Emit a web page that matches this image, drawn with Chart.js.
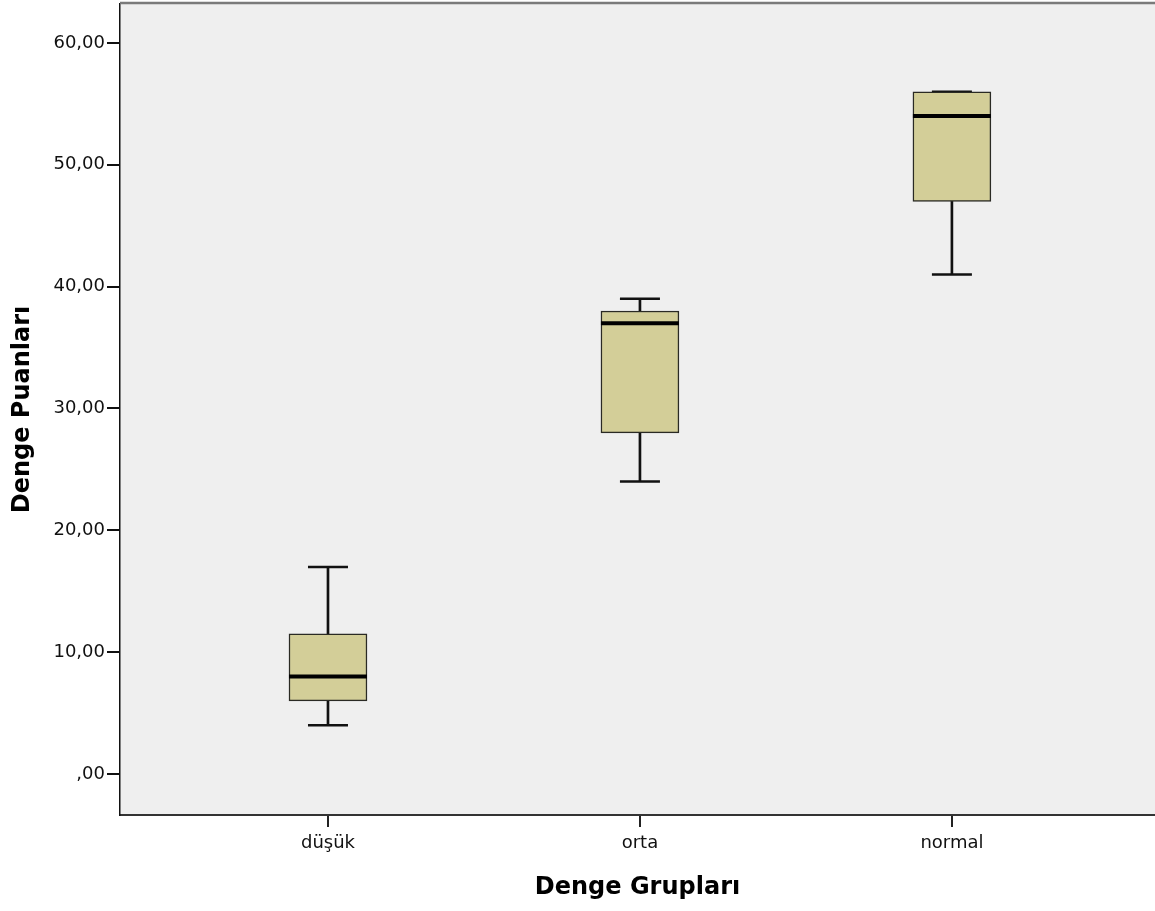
<!DOCTYPE html>
<html>
<head>
<meta charset="utf-8">
<script src="https://cdn.jsdelivr.net/npm/chart.js@4.4.1/dist/chart.umd.min.js"></script>
<style>
  body { margin: 0; background: #fff; }
</style>
</head>
<body>
<canvas id="boxChart" width="1155" height="911"></canvas>
<script>
const groups = ["düşük", "orta", "normal"];
const mins = [4, 24, 41];
const q1s = [6, 28, 47];
const medians = [8, 37, 54];
const q3s = [11.5, 38, 56];
const maxs = [17, 39, 56];

const xPos = groups.map((g, i) => i);

// plot background + top frame line
const frame = {
    id: 'frame',
    beforeDraw(chart) {
        const a = chart.chartArea, ctx = chart.ctx;
        ctx.save();
        ctx.fillStyle = '#efefef';
        ctx.fillRect(a.left, a.top, a.right - a.left, a.bottom - a.top);
        ctx.restore();
    },
    afterDraw(chart) {
        const a = chart.chartArea, ctx = chart.ctx;
        ctx.save();
        ctx.strokeStyle = '#7a7a7a';
        ctx.lineWidth = 2.5;
        ctx.beginPath();
        ctx.moveTo(a.left, a.top - 1);
        ctx.lineTo(a.right, a.top - 1);
        ctx.stroke();
        ctx.restore();
    }
};

const fmt = v => v === 0 ? ',00' : v.toFixed(2).replace('.', ',');

const config = {
    type: 'bar',
    data: {
        datasets: [
        {
            // medians
            type: 'scatter',
            data: xPos.map((x, i) => ({x: x, y: medians[i]})),
            pointStyle: 'line',
            radius: 39,
            borderWidth: 4,
            borderColor: '#000',
            order: 0
        },
        {
            // boxes
            data: xPos.map((x, i) => ({x: x, y: [q1s[i], q3s[i]]})),
            backgroundColor: '#d3ce98',
            borderColor: '#2a2a24',
            borderWidth: 1.5,
            borderSkipped: false,
            barThickness: 78,
            grouped: false,
            order: 1
        },
        {
            // whisker caps
            type: 'scatter',
            data: xPos.map((x, i) => ({x: x, y: mins[i]})).concat(xPos.map((x, i) => ({x: x, y: maxs[i]}))),
            pointStyle: 'line',
            radius: 20,
            borderWidth: 2.5,
            borderColor: '#111',
            order: 2
        },
        {
            // lower whiskers
            data: xPos.map((x, i) => ({x: x, y: [mins[i], q1s[i]]})),
            backgroundColor: '#111',
            barThickness: 2,
            grouped: false,
            order: 3
        },
        {
            // upper whiskers
            data: xPos.map((x, i) => ({x: x, y: [q3s[i], maxs[i]]})),
            backgroundColor: '#111',
            barThickness: 2,
            grouped: false,
            order: 3
        }
        ]
    },
    options: {
        responsive: false,
        animation: false,
        layout: { autoPadding: false, padding: { top: 4, right: 0, left: 0, bottom: 0 } },
        plugins: {
            legend: { display: false },
            tooltip: { enabled: false }
        },
        scales: {
            x: {
                type: 'linear',
                offset: false,
                min: -0.6667,
                max: 2.651,
                afterBuildTicks: s => { s.ticks = xPos.map(v => ({value: v})); },
                afterFit: s => { s.height = 96; s.paddingLeft = 0; s.paddingRight = 0; },
                grid: { display: true, offset: false, drawOnChartArea: false, drawTicks: true, tickLength: 12, color: '#222', lineWidth: 2 },
                border: { display: true, color: '#333', width: 2 },
                ticks: {
                    callback: v => groups[v],
                    font: { family: 'DejaVu Sans', size: 18 },
                    color: '#111',
                    padding: 6,
                    maxRotation: 0
                },
                title: {
                    display: true,
                    text: 'Denge Grupları',
                    font: { family: 'DejaVu Sans', size: 24, weight: 'bold' },
                    color: '#000',
                    padding: { top: 0, bottom: 9 }
                }
            },
            y: {
                type: 'linear',
                min: -3.365,
                max: 63.2,
                afterFit: s => { s.width = 120; s.paddingTop = 0; s.paddingBottom = 0; },
                grid: { display: true, drawOnChartArea: false, drawTicks: true, tickLength: 13, color: '#111', lineWidth: 2 },
                border: { display: true, color: '#111', width: 1.5 },
                ticks: {
                    stepSize: 10,
                    includeBounds: false,
                    callback: v => fmt(v),
                    font: { family: 'DejaVu Sans', size: 18 },
                    color: '#111',
                    padding: 2
                },
                title: {
                    display: true,
                    text: 'Denge Puanları',
                    font: { family: 'DejaVu Sans', size: 24, weight: 'bold' },
                    color: '#000',
                    padding: { top: 8, bottom: 0 }
                }
            }
        }
    },
    plugins: [frame]
};

const boxChart = new Chart(document.getElementById('boxChart'), config);
</script>
</body>
</html>
